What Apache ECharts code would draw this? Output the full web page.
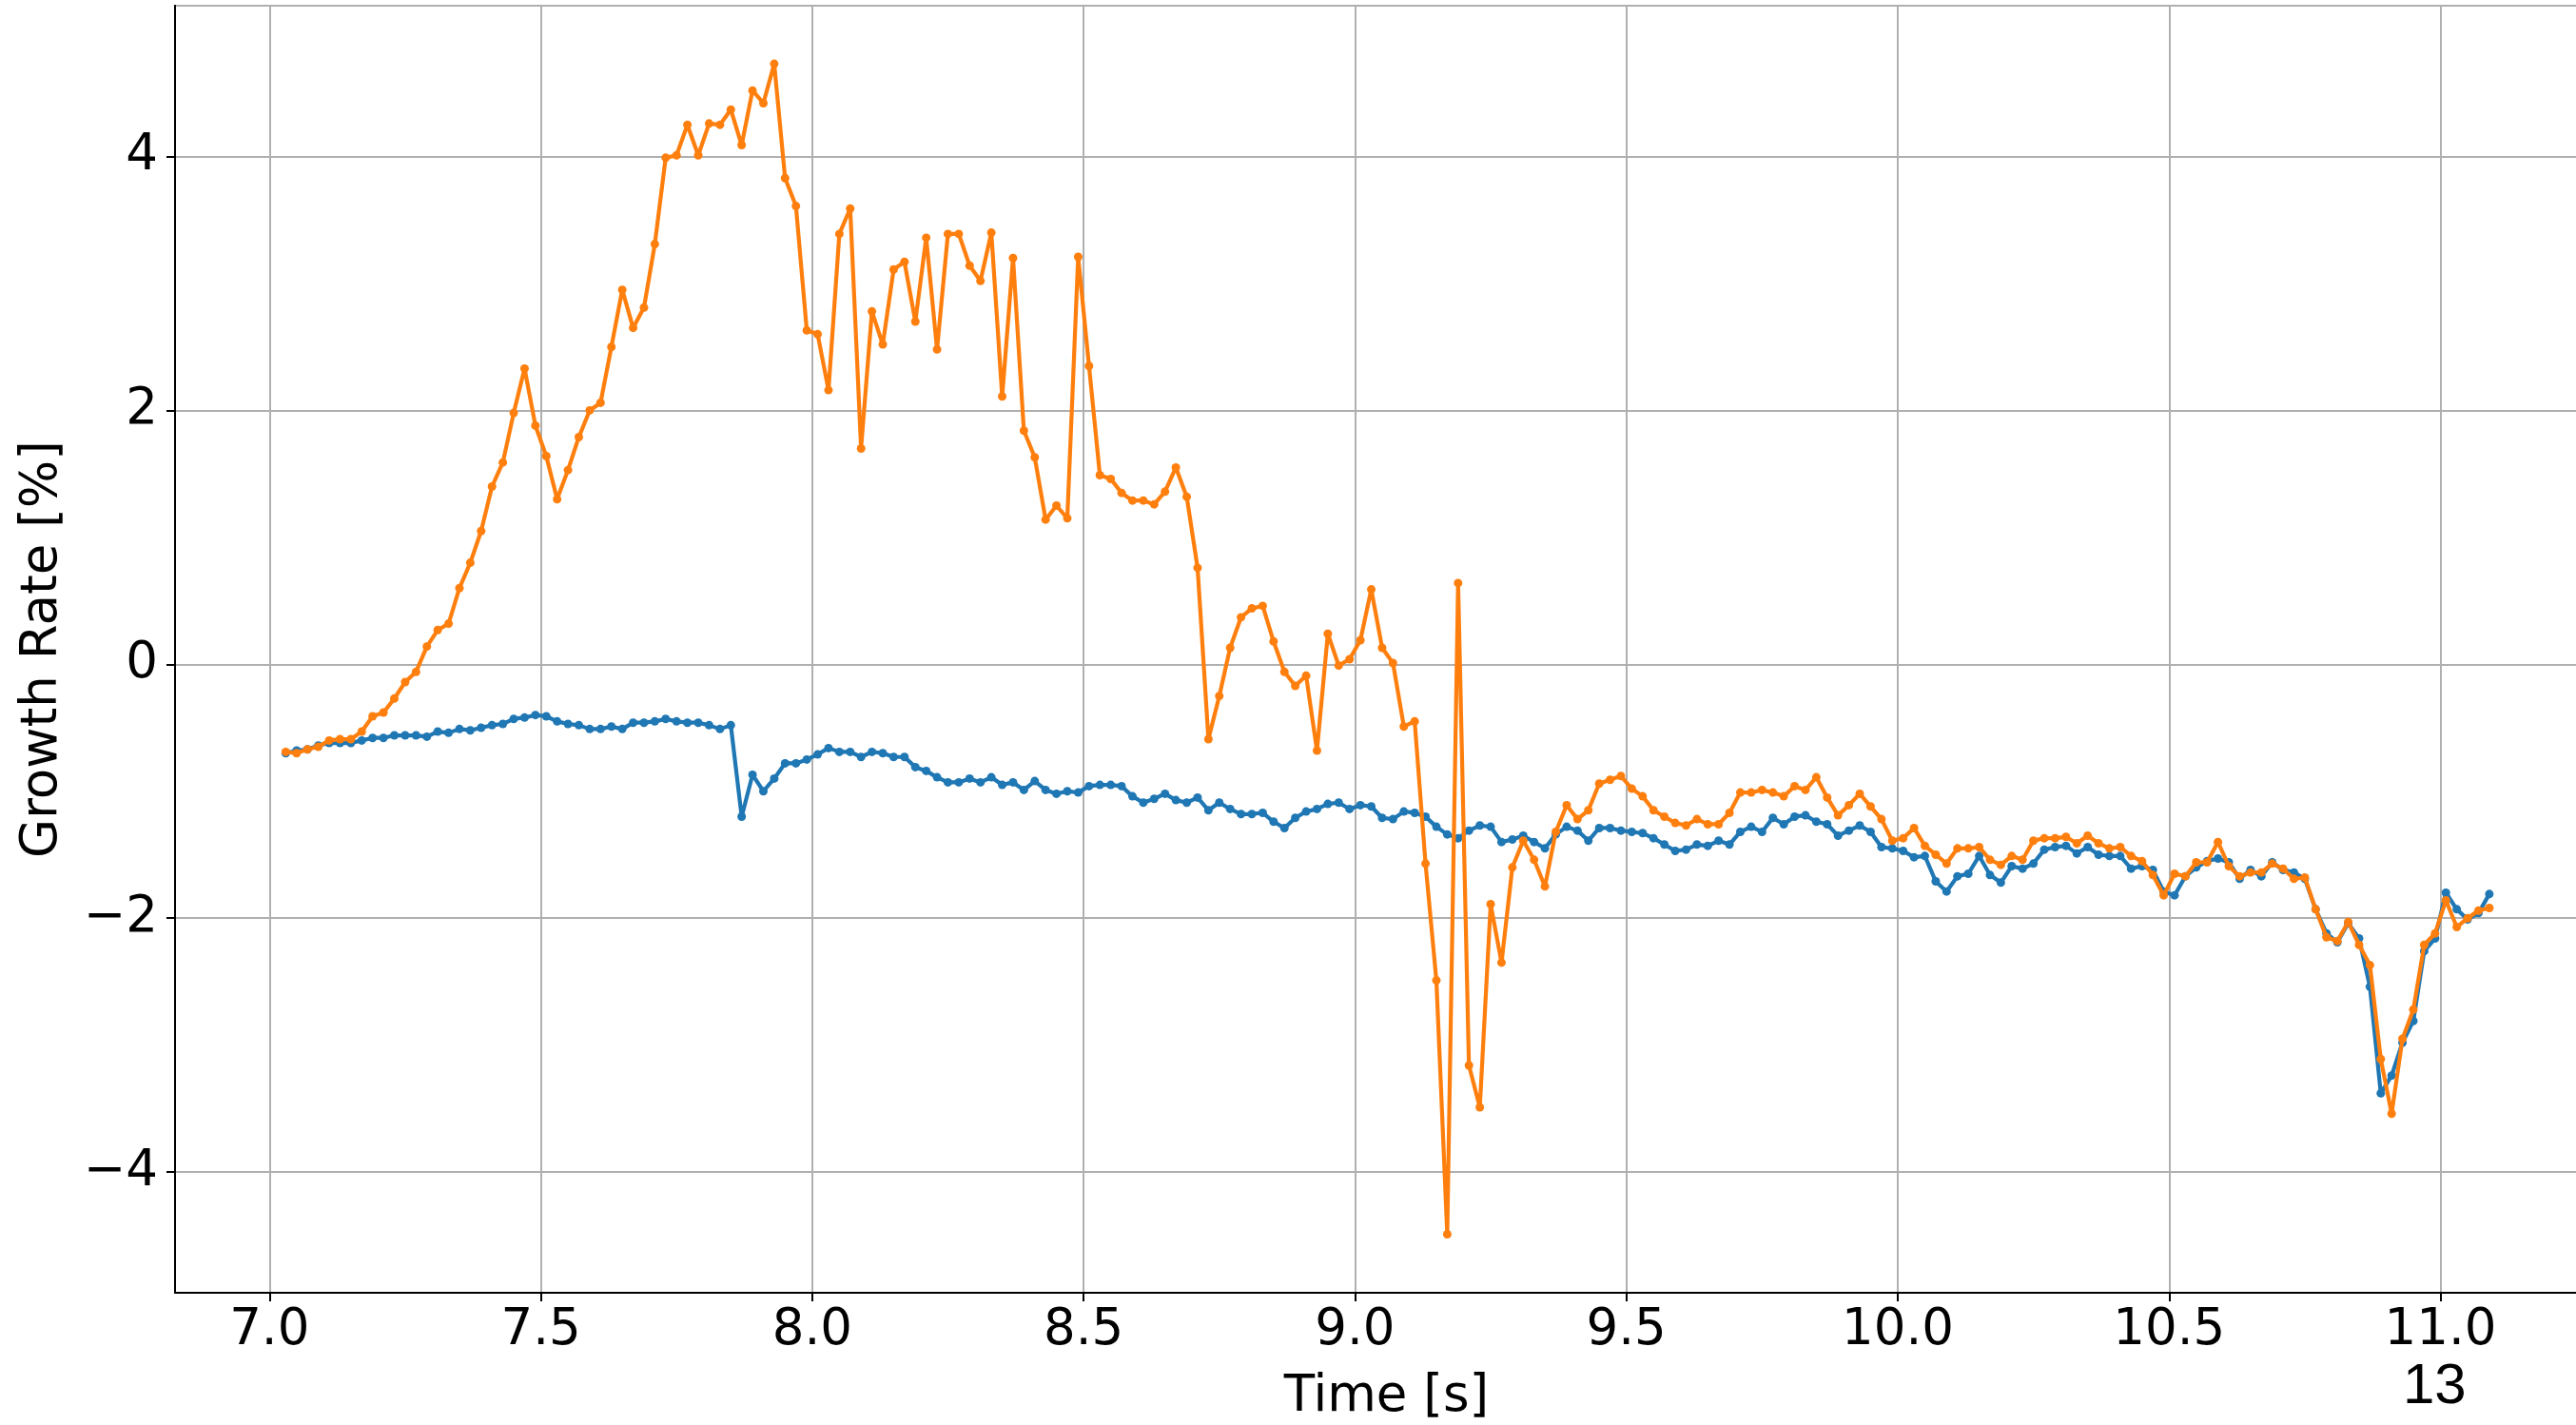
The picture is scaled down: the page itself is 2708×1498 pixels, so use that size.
<!DOCTYPE html>
<html>
<head>
<meta charset="utf-8">
<script src="https://cdn.jsdelivr.net/npm/echarts@6/dist/echarts.min.js"></script>
<style>
html,body{margin:0;padding:0;background:#fff;}
#chart{width:2708px;height:1498px;}
</style>
</head>
<body>
<div id="chart"></div>
<script>
const times = [
7.03,7.05,7.07,7.09,7.11,7.13,7.15,7.17,7.19,7.21,7.23,7.25,7.27,7.29,7.31,7.33,7.35,7.37,7.39,7.41,
7.43,7.45,7.47,7.49,7.51,7.53,7.55,7.57,7.59,7.61,7.63,7.65,7.67,7.69,7.71,7.73,7.75,7.77,7.79,7.81,
7.83,7.85,7.87,7.89,7.91,7.93,7.95,7.97,7.99,8.01,8.03,8.05,8.07,8.09,8.11,8.13,8.15,8.17,8.19,8.21,
8.23,8.25,8.27,8.29,8.31,8.33,8.35,8.37,8.39,8.41,8.43,8.45,8.47,8.49,8.51,8.53,8.55,8.57,8.59,8.61,
8.63,8.65,8.67,8.69,8.71,8.73,8.75,8.77,8.79,8.81,8.83,8.85,8.87,8.89,8.91,8.93,8.95,8.97,8.99,9.01,
9.03,9.05,9.07,9.09,9.11,9.13,9.15,9.17,9.19,9.21,9.23,9.25,9.27,9.29,9.31,9.33,9.35,9.37,9.39,9.41,
9.43,9.45,9.47,9.49,9.51,9.53,9.55,9.57,9.59,9.61,9.63,9.65,9.67,9.69,9.71,9.73,9.75,9.77,9.79,9.81,
9.83,9.85,9.87,9.89,9.91,9.93,9.95,9.97,9.99,10.01,10.03,10.05,10.07,10.09,10.11,10.13,10.15,10.17,10.19,10.21,
10.23,10.25,10.27,10.29,10.31,10.33,10.35,10.37,10.39,10.41,10.43,10.45,10.47,10.49,10.51,10.53,10.55,10.57,10.59,10.61,
10.63,10.65,10.67,10.69,10.71,10.73,10.75,10.77,10.79,10.81,10.83,10.85,10.87,10.89,10.91,10.93,10.95,10.97,10.99,11.01,
11.03,11.05,11.07,11.09
];

const blueValues = [
-0.70,-0.68,-0.67,-0.64,-0.62,-0.62,-0.62,-0.60,-0.58,-0.58,-0.56,-0.56,-0.56,-0.57,-0.53,-0.54,-0.51,-0.52,-0.50,-0.48,
-0.47,-0.43,-0.42,-0.40,-0.41,-0.45,-0.47,-0.48,-0.51,-0.51,-0.49,-0.51,-0.46,-0.46,-0.45,-0.43,-0.45,-0.46,-0.46,-0.48,
-0.51,-0.48,-1.20,-0.87,-1.00,-0.90,-0.78,-0.78,-0.75,-0.71,-0.66,-0.69,-0.69,-0.73,-0.69,-0.70,-0.73,-0.73,-0.81,-0.84,
-0.89,-0.93,-0.93,-0.90,-0.93,-0.89,-0.95,-0.93,-0.99,-0.92,-0.99,-1.02,-1.00,-1.01,-0.96,-0.95,-0.95,-0.96,-1.04,-1.09,
-1.06,-1.02,-1.07,-1.09,-1.05,-1.15,-1.09,-1.14,-1.18,-1.18,-1.17,-1.24,-1.29,-1.21,-1.16,-1.14,-1.10,-1.09,-1.14,-1.11,
-1.12,-1.21,-1.22,-1.16,-1.17,-1.20,-1.28,-1.34,-1.37,-1.31,-1.27,-1.28,-1.40,-1.38,-1.35,-1.40,-1.45,-1.34,-1.28,-1.31,
-1.39,-1.29,-1.29,-1.31,-1.32,-1.33,-1.37,-1.42,-1.47,-1.46,-1.42,-1.43,-1.39,-1.42,-1.32,-1.28,-1.32,-1.21,-1.26,-1.20,
-1.19,-1.24,-1.26,-1.35,-1.31,-1.27,-1.32,-1.44,-1.45,-1.47,-1.52,-1.51,-1.71,-1.79,-1.67,-1.65,-1.51,-1.66,-1.72,-1.59,
-1.61,-1.57,-1.46,-1.44,-1.43,-1.49,-1.44,-1.50,-1.51,-1.51,-1.61,-1.59,-1.62,-1.79,-1.82,-1.67,-1.60,-1.55,-1.53,-1.56,
-1.69,-1.62,-1.67,-1.56,-1.62,-1.64,-1.69,-1.93,-2.12,-2.19,-2.04,-2.16,-2.54,-3.38,-3.24,-2.98,-2.81,-2.26,-2.16,-1.80,
-1.93,-2.01,-1.96,-1.81
];

const orangeValues = [
-0.69,-0.70,-0.67,-0.65,-0.60,-0.59,-0.59,-0.53,-0.41,-0.38,-0.27,-0.14,-0.06,0.14,0.27,0.32,0.60,0.80,1.05,1.40,
1.59,1.98,2.33,1.88,1.64,1.30,1.53,1.79,2.00,2.06,2.50,2.95,2.65,2.81,3.31,3.99,4.01,4.25,4.01,4.26,
4.25,4.37,4.09,4.52,4.42,4.73,3.83,3.61,2.63,2.60,2.16,3.39,3.59,1.70,2.78,2.52,3.11,3.17,2.70,3.36,
2.48,3.39,3.39,3.14,3.02,3.40,2.11,3.20,1.84,1.63,1.14,1.25,1.15,3.21,2.35,1.49,1.46,1.35,1.29,1.29,
1.26,1.36,1.55,1.32,0.76,-0.59,-0.25,0.13,0.37,0.44,0.46,0.18,-0.06,-0.17,-0.09,-0.68,0.24,-0.01,0.04,0.19,
0.59,0.13,0.01,-0.49,-0.45,-1.57,-2.49,-4.49,0.64,-3.16,-3.49,-1.89,-2.35,-1.60,-1.39,-1.54,-1.75,-1.32,-1.11,-1.22,
-1.15,-0.94,-0.91,-0.88,-0.98,-1.04,-1.15,-1.20,-1.25,-1.27,-1.22,-1.26,-1.26,-1.17,-1.01,-1.01,-0.99,-1.01,-1.04,-0.96,
-0.99,-0.89,-1.05,-1.19,-1.11,-1.02,-1.12,-1.22,-1.39,-1.37,-1.29,-1.43,-1.50,-1.57,-1.45,-1.45,-1.44,-1.54,-1.58,-1.51,
-1.54,-1.39,-1.37,-1.37,-1.36,-1.41,-1.35,-1.41,-1.45,-1.44,-1.51,-1.55,-1.66,-1.82,-1.65,-1.67,-1.56,-1.56,-1.40,-1.59,
-1.67,-1.64,-1.64,-1.57,-1.61,-1.69,-1.68,-1.93,-2.15,-2.18,-2.03,-2.21,-2.37,-3.11,-3.54,-2.95,-2.72,-2.21,-2.12,-1.86,
-2.07,-2.00,-1.94,-1.92
];

const xLabel = 'Time [s]';
const yLabel = 'Growth Rate [%]';
const pageNumber = '13';

const FONT = 'DejaVu Sans';
const pairs = vals => times.map((t, i) => [t, vals[i]]);

const chart = echarts.init(document.getElementById('chart'), null, {renderer: 'canvas'});
chart.setOption({
  animation: false,
  backgroundColor: '#ffffff',
  grid: {
    left: 184, top: 6, right: -23, bottom: 139,
    containLabel: false,
    outerBoundsMode: 'none',
    show: true, borderColor: '#000', borderWidth: 2, backgroundColor: 'transparent'
  },
  xAxis: {
    type: 'value',
    min: 6.826, max: 11.29,
    minInterval: 0.5, maxInterval: 0.5,
    name: xLabel, nameLocation: 'middle', nameGap: 84,
    nameTextStyle: {fontFamily: FONT, fontSize: 53, color: '#000'},
    axisLine: {show: true, onZero: false, lineStyle: {color: '#000', width: 2}},
    axisTick: {show: true, length: 9, lineStyle: {color: '#000', width: 2}},
    axisLabel: {
      fontFamily: FONT, fontSize: 53, color: '#000', margin: 14,
      showMinLabel: false, showMaxLabel: false,
      formatter: v => v.toFixed(1)
    },
    splitLine: {show: true, lineStyle: {color: '#b0b0b0', width: 2}}
  },
  yAxis: {
    type: 'value',
    min: -4.951, max: 5.188,
    minInterval: 2, maxInterval: 2,
    name: yLabel, nameLocation: 'middle', nameGap: 112, nameRotate: 90,
    nameTextStyle: {fontFamily: FONT, fontSize: 53, color: '#000'},
    axisLine: {show: true, onZero: false, lineStyle: {color: '#000', width: 2}},
    axisTick: {show: true, length: 9, lineStyle: {color: '#000', width: 2}},
    axisLabel: {
      fontFamily: FONT, fontSize: 53, color: '#000', margin: 18,
      showMinLabel: false, showMaxLabel: false,
      formatter: v => (v < 0 ? '\u2212' + Math.abs(v) : String(v))
    },
    splitLine: {show: true, lineStyle: {color: '#b0b0b0', width: 2}}
  },
  graphic: [{
    type: 'text', left: 2560 - 34, top: 1428,
    style: {text: pageNumber, fontFamily: 'Liberation Sans', fontSize: 60, fill: '#000'}
  }],
  series: [
    {
      type: 'line', data: pairs(blueValues),
      symbol: 'circle', symbolSize: 9, showAllSymbol: true,
      itemStyle: {color: '#1f77b4'},
      lineStyle: {color: '#1f77b4', width: 4.2},
      z: 2
    },
    {
      type: 'line', data: pairs(orangeValues),
      symbol: 'circle', symbolSize: 9, showAllSymbol: true,
      itemStyle: {color: '#ff7f0e'},
      lineStyle: {color: '#ff7f0e', width: 4.2},
      z: 3
    }
  ]
});
</script>
</body>
</html>
